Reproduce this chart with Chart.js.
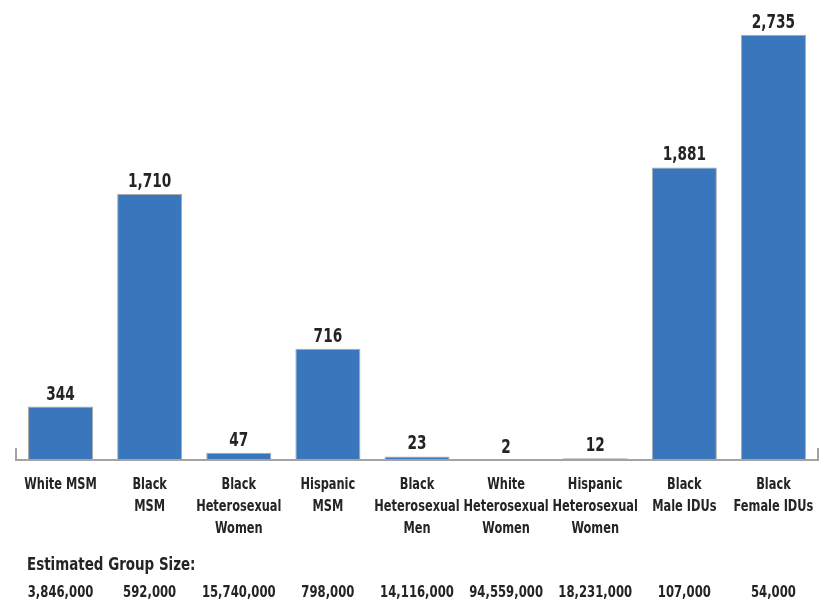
<!DOCTYPE html>
<html>
<head>
<meta charset="utf-8">
<script src="https://cdn.jsdelivr.net/npm/chart.js@4"></script>
<style>
    body { margin: 0; background: #fff; }
    #wrap { width: 823px; height: 603px; }
</style>
</head>
<body>
<div id="wrap"><canvas id="rateChart"></canvas></div>
<script>
const groups = [
    ['White MSM'],
    ['Black', 'MSM'],
    ['Black', 'Heterosexual', 'Women'],
    ['Hispanic', 'MSM'],
    ['Black', 'Heterosexual', 'Men'],
    ['White', 'Heterosexual', 'Women'],
    ['Hispanic', 'Heterosexual', 'Women'],
    ['Black', 'Male IDUs'],
    ['Black', 'Female IDUs']
];
const rates = [344, 1710, 47, 716, 23, 2, 12, 1881, 2735];
const groupSizes = ['3,846,000', '592,000', '15,740,000', '798,000', '14,116,000', '94,559,000', '18,231,000', '107,000', '54,000'];
const groupSizeTitle = 'Estimated Group Size:';

const FONT = "'DejaVu Sans Condensed', 'DejaVu Sans', sans-serif";
const TEXT = '#262324';

// bold text squeezed horizontally to get a narrow, heavy look
function squished(ctx, text, x, y, size, sx, align) {
    ctx.save();
    ctx.font = 'bold ' + size + 'px ' + FONT;
    ctx.textAlign = align || 'center';
    ctx.translate(x, y);
    ctx.scale(sx, 1);
    ctx.fillText(text, 0, 0);
    ctx.restore();
}

// baseline with the little end caps
const axisLine = {
    id: 'axisLine',
    afterDatasetsDraw(chart) {
        const { ctx, chartArea } = chart;
        const y0 = chart.scales.y.getPixelForValue(0);
        ctx.save();
        ctx.strokeStyle = '#a3a3a3';
        ctx.lineWidth = 2;
        ctx.beginPath();
        ctx.moveTo(chartArea.left, y0 - 12);
        ctx.lineTo(chartArea.left, y0);
        ctx.lineTo(chartArea.right, y0);
        ctx.lineTo(chartArea.right, y0 - 12);
        ctx.stroke();
        ctx.restore();
    }
};

// numbers on top of each bar
const valueLabels = {
    id: 'valueLabels',
    afterDatasetsDraw(chart) {
        const { ctx } = chart;
        const meta = chart.getDatasetMeta(0);
        ctx.save();
        ctx.fillStyle = TEXT;
        ctx.textBaseline = 'alphabetic';
        meta.data.forEach((bar, i) => {
            squished(ctx, rates[i].toLocaleString('en-US'), bar.x, bar.y - 7, 20, 0.76);
        });
        ctx.restore();
    }
};

// category names, then the group size row
const bottomText = {
    id: 'bottomText',
    afterDraw(chart) {
        const { ctx } = chart;
        const x = chart.scales.x;
        ctx.save();
        ctx.fillStyle = TEXT;
        ctx.textBaseline = 'middle';
        groups.forEach((lines, i) => {
            lines.forEach((line, j) => {
                squished(ctx, line, x.getPixelForValue(i), 485 + j * 22, 16, 0.79);
            });
        });
        squished(ctx, groupSizeTitle, 27, 565, 18, 0.83, 'left');
        groupSizes.forEach((s, i) => {
            squished(ctx, s, x.getPixelForValue(i), 593, 16, 0.81);
        });
        ctx.restore();
    }
};

new Chart(document.getElementById('rateChart').getContext('2d'), {
    type: 'bar',
    data: {
        labels: groups,
        datasets: [{
            data: rates,
            backgroundColor: '#3a76bc',
            borderColor: '#a9a9a9',
            borderWidth: 1,
            barPercentage: 0.73,
            categoryPercentage: 1
        }]
    },
    options: {
        responsive: true,
        maintainAspectRatio: false,
        animation: false,
        layout: { padding: { left: 16, right: 5, top: 9, bottom: 0 } },
        plugins: {
            legend: { display: false },
            tooltip: { enabled: false }
        },
        scales: {
            x: {
                grid: { display: false },
                border: { display: false },
                ticks: { display: false },
                afterFit(scale) {
                    scale.height = 143;
                    scale.paddingLeft = 0;
                    scale.paddingRight = 0;
                }
            },
            y: {
                display: false,
                min: 0,
                max: 2900
            }
        }
    },
    plugins: [axisLine, valueLabels, bottomText]
});
</script>
</body>
</html>
